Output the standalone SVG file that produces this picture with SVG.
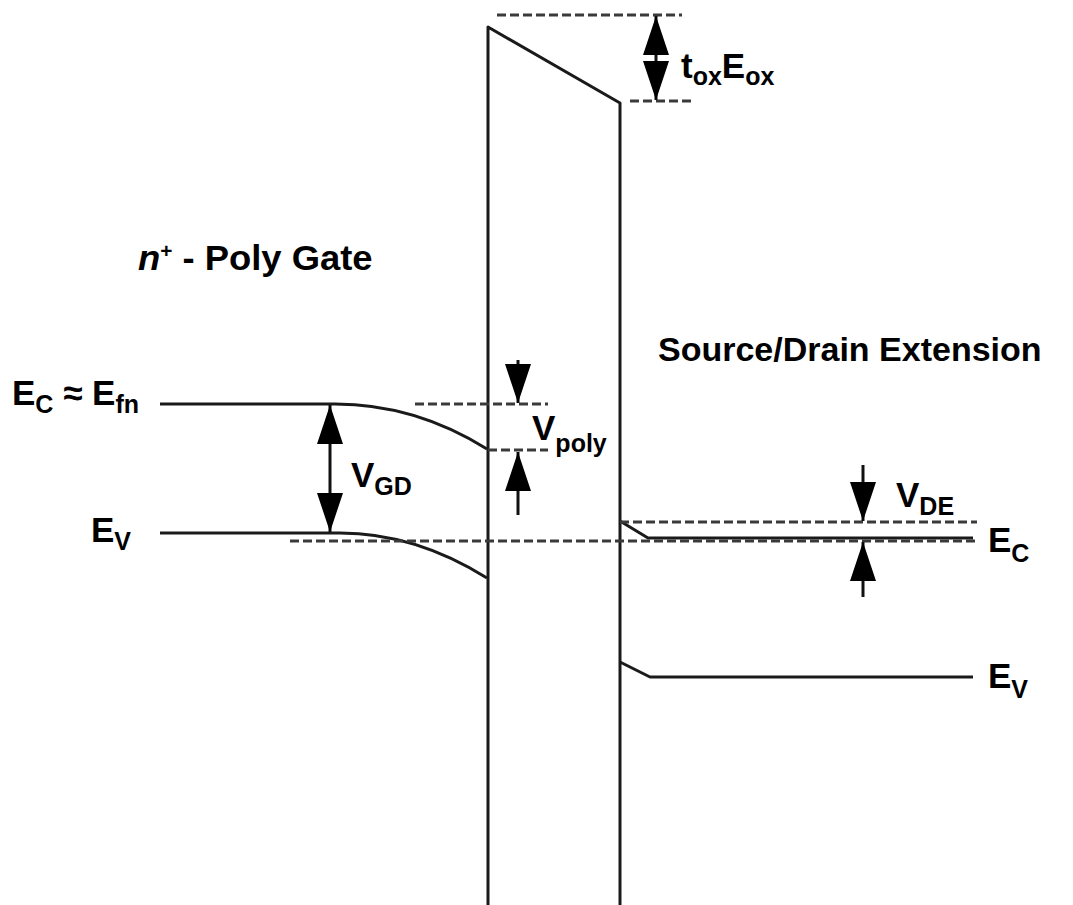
<svg xmlns="http://www.w3.org/2000/svg" width="1073" height="905" viewBox="0 0 1073 905">
<style>
  .solid { fill: none; stroke: #1a1a1a; stroke-width: 3; stroke-linejoin: round; }
  .dash { fill: none; stroke: #3a3a3a; stroke-width: 3; stroke-dasharray: 9 4; }
  .arr { fill: none; stroke: #111; stroke-width: 3; }
  .lbl { font-family: "Liberation Sans", Arial, sans-serif; font-weight: bold; font-size: 35px; fill: #000; }
  .sub { font-size: 25px; }
</style>
<defs>
  <marker id="ah" markerUnits="userSpaceOnUse" markerWidth="40" markerHeight="28" refX="39" refY="13" orient="auto">
    <path d="M0,0 L39,13 L0,26 Z" fill="#000"/>
  </marker>
</defs>
<rect width="1073" height="905" fill="#fff"/>

<g id="oxide">
  <path class="solid" d="M488,905 L488,27 L620,103 L620,905"/>
</g>

<g id="gate-bands">
  <path class="solid" d="M160,404 L335,404 Q415,404 487,449"/>
  <path class="solid" d="M160,533 L340,533 Q415,533 487,578"/>
</g>

<g id="extension-bands">
  <path class="solid" d="M620,521 L648,538 L973,538"/>
  <path class="solid" d="M620,662 L650,677 L973,677"/>
</g>

<g id="reference-lines">
  <line class="dash" x1="497" y1="15" x2="682" y2="15"/>
  <line class="dash" x1="630" y1="101" x2="695" y2="101"/>
  <line class="dash" x1="415" y1="404" x2="548" y2="404"/>
  <line class="dash" x1="488" y1="450" x2="548" y2="450"/>
  <line class="dash" x1="290" y1="541" x2="975" y2="541"/>
  <line class="dash" x1="620" y1="522" x2="977" y2="522"/>
</g>

<g id="connectors">
  <line class="arr" x1="656" y1="60" x2="656" y2="16" marker-end="url(#ah)"/>
  <line class="arr" x1="656" y1="60" x2="656" y2="100" marker-end="url(#ah)"/>
  <line class="arr" x1="330" y1="468" x2="330" y2="405" marker-end="url(#ah)"/>
  <line class="arr" x1="330" y1="468" x2="330" y2="532" marker-end="url(#ah)"/>
  <line class="arr" x1="518" y1="360" x2="518" y2="403" marker-end="url(#ah)"/>
  <line class="arr" x1="518" y1="515" x2="518" y2="452" marker-end="url(#ah)"/>
  <line class="arr" x1="863" y1="465" x2="863" y2="521" marker-end="url(#ah)"/>
  <line class="arr" x1="863" y1="597" x2="863" y2="542" marker-end="url(#ah)"/>
</g>

<g id="labels">
  <text class="lbl" transform="translate(138,270) scale(1.04,1)"><tspan font-style="italic">n</tspan><tspan style="font-size:20px" dy="-12">+</tspan><tspan dy="12"> - Poly Gate</tspan></text>
  <text class="lbl" x="658" y="361" style="font-size:34px">Source/Drain Extension</text>
  <text class="lbl" x="12" y="405">E<tspan class="sub" dy="8">C</tspan><tspan dy="-8"> ≈ E</tspan><tspan class="sub" dy="8">fn</tspan></text>
  <text class="lbl" x="91" y="542">E<tspan class="sub" dy="8">V</tspan></text>
  <text class="lbl" x="351" y="487">V<tspan class="sub" dy="8">GD</tspan></text>
  <text class="lbl" x="532" y="440">V<tspan class="sub" dy="12">poly</tspan></text>
  <text class="lbl" x="896" y="507">V<tspan class="sub" dy="8">DE</tspan></text>
  <text class="lbl" x="988" y="552">E<tspan class="sub" dy="10">C</tspan></text>
  <text class="lbl" x="988" y="688">E<tspan class="sub" dy="10">V</tspan></text>
  <text class="lbl" x="681" y="78">t<tspan class="sub" dy="7">ox</tspan><tspan dy="-7">E</tspan><tspan class="sub" dy="7">ox</tspan></text>
</g>
</svg>
